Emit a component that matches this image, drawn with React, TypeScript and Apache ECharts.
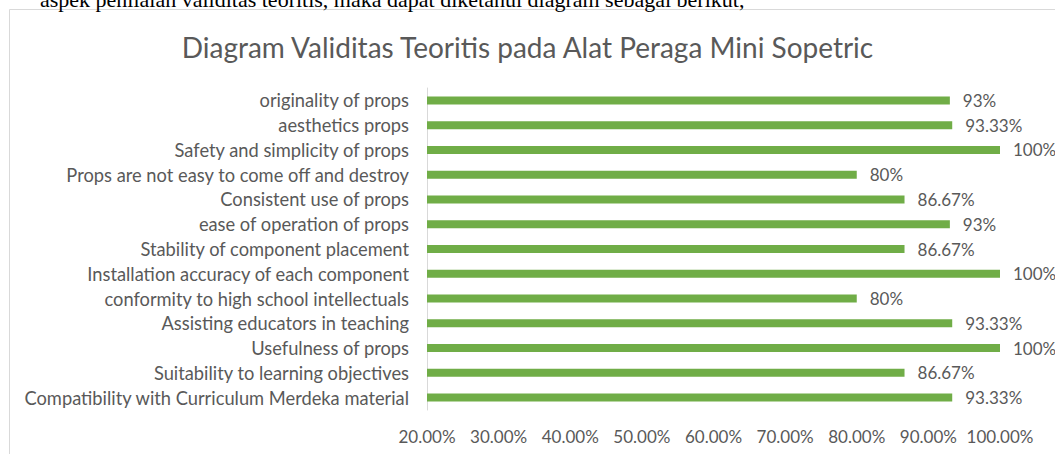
import React, { useEffect, useRef } from "react";
import * as echarts from "echarts";

const categories = [
  "originality of props",
  "aesthetics props",
  "Safety and simplicity of props",
  "Props are not easy to come off and destroy",
  "Consistent use of props",
  "ease of operation of props",
  "Stability of component placement",
  "Installation accuracy of each component",
  "conformity to high school intellectuals",
  "Assisting educators in teaching",
  "Usefulness of props",
  "Suitability to learning objectives",
  "Compatibility with Curriculum Merdeka material",
];
const values = [93, 93.33, 100, 80, 86.67, 93, 86.67, 100, 80, 93.33, 100, 86.67, 93.33];
const valueLabels = ["93%", "93.33%", "100%", "80%", "86.67%", "93%", "86.67%", "100%", "80%", "93.33%", "100%", "86.67%", "93.33%"];
const title = "Diagram Validitas Teoritis pada Alat Peraga Mini Sopetric";
const caption = "aspek penilaian validitas teoritis, maka dapat diketahui diagram sebagai berikut,";

export default function App() {
  const ref = useRef<HTMLDivElement>(null);
  useEffect(() => {
    if (!ref.current) return;
    const chart = echarts.init(ref.current, null, { renderer: "svg" });
    const cats = [...categories].reverse();
    const vals = [...values].reverse();
    const labs = [...valueLabels].reverse();
    chart.setOption({
      animation: false,
      backgroundColor: "#ffffff",
      title: {
        text: title,
        left: "center",
        top: 28,
        textStyle: { fontFamily: "Lato", fontSize: 28, fontWeight: "normal", color: "#595959" },
      },
      graphic: [
        {
          type: "rect",
          shape: { x: 9.5, y: 9.5, width: 1100, height: 500 },
          style: { fill: "none", stroke: "#d9d9d9", lineWidth: 1 },
        },
        {
          type: "text",
          x: 40,
          y: -12,
          style: {
            text: caption,
            font: "22px 'Liberation Serif'",
            fill: "#000000",
          },
        },
      ],
      grid: { left: 427, right: 55, top: 88, bottom: 44, containLabel: false },
      xAxis: {
        type: "value",
        min: 20,
        max: 100,
        interval: 10,
        axisLine: { show: false },
        axisTick: { show: false },
        splitLine: { show: false },
        axisLabel: {
          formatter: (v: number) => v.toFixed(2) + "%",
          fontFamily: "Lato",
          fontSize: 17,
          color: "#595959",
          margin: 18,
        },
      },
      yAxis: {
        type: "category",
        data: cats,
        axisLine: { show: true, lineStyle: { color: "#d9d9d9", width: 1 } },
        axisTick: { show: false },
        axisLabel: { fontFamily: "Lato", fontSize: 18.3, color: "#595959", margin: 18 },
      },
      series: [
        {
          type: "bar",
          data: vals,
          barWidth: 8,
          itemStyle: { color: "#70AD47" },
          label: {
            show: true,
            position: "right",
            distance: 13,
            formatter: (p: any) => labs[p.dataIndex],
            fontFamily: "Lato",
            fontSize: 17,
            color: "#595959",
          },
        },
      ],
    });
    return () => chart.dispose();
  }, []);
  return (
    <div
      ref={ref}
      style={{ position: "fixed", left: 0, top: 0, width: 1055, height: 454 }}
    />
  );
}
